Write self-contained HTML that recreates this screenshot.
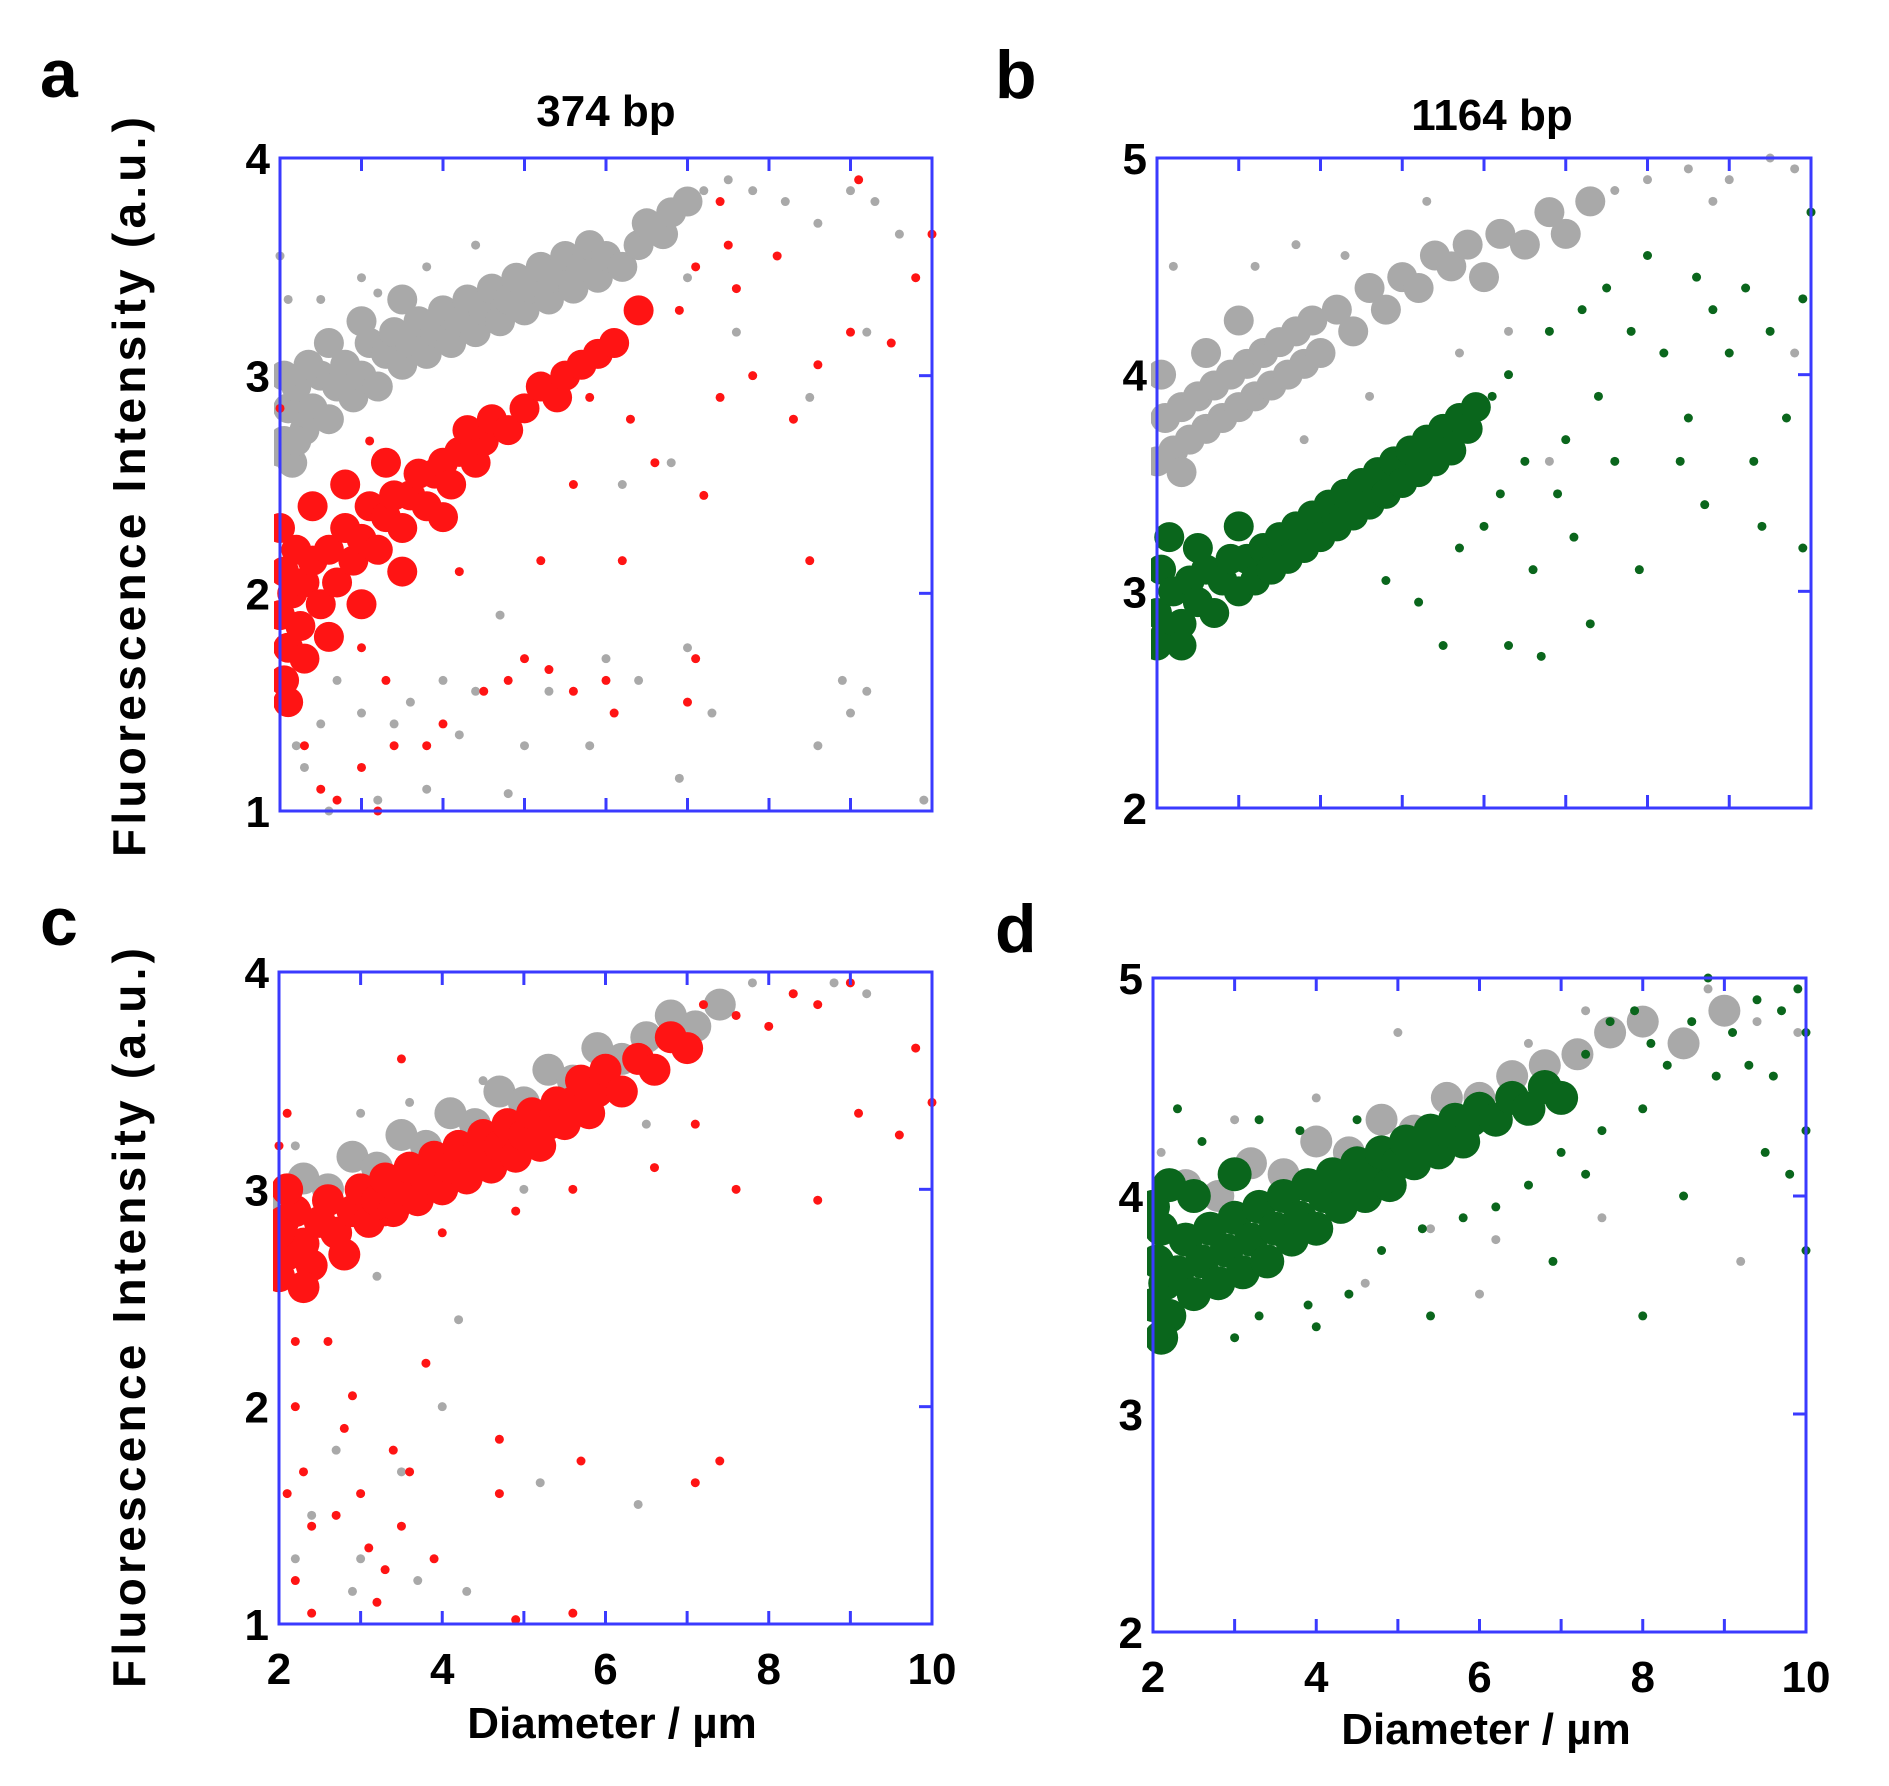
<!DOCTYPE html>
<html><head><meta charset="utf-8"><style>
html,body{margin:0;padding:0;background:#fff}
svg{display:block;font-family:"Liberation Sans",Arial,sans-serif}
</style></head><body>
<svg id="fig" width="1889" height="1786" viewBox="0 0 1889 1786">
<text x="40" y="97" font-size="68" font-weight="bold">a</text>
<text x="995" y="98" font-size="68" font-weight="bold">b</text>
<text x="40" y="945" font-size="68" font-weight="bold">c</text>
<text x="995" y="952" font-size="68" font-weight="bold">d</text>
<text x="606" y="126" font-size="44" font-weight="bold" text-anchor="middle">374 bp</text>
<text x="1492" y="130" font-size="44" font-weight="bold" text-anchor="middle">1164 bp</text>
<text transform="translate(145,487) rotate(-90)" font-size="46" font-weight="bold" text-anchor="middle" textLength="740">Fluorescence  Intensity (a.u.)</text>
<text transform="translate(145,1318) rotate(-90)" font-size="46" font-weight="bold" text-anchor="middle" textLength="740">Fluorescence  Intensity (a.u.)</text>
<text x="612" y="1738" font-size="44" font-weight="bold" text-anchor="middle">Diameter / µm</text>
<text x="1486" y="1744" font-size="44" font-weight="bold" text-anchor="middle">Diameter / µm</text>
</svg>
<script>
const xTicks=[2,3,4,5,6,7,8,9,10];
const xTickLabels=[2,4,6,8,10];
const yTicksA=[1,2,3,4];
const yTicksB=[2,3,4,5];

const grayACore=[[2.05,2.7],[2.1,2.85],[2.2,2.95],[2.3,2.75],[2.4,2.85],[2.5,3.0],[2.6,2.8],[2.7,2.95],[2.8,3.05],[2.9,2.9],[3.0,3.0],[3.1,3.15],[3.2,2.95],[3.3,3.1],[3.4,3.2],[3.5,3.05],[3.6,3.15],[3.7,3.25],[3.8,3.1],[3.9,3.2],[4.0,3.3],[4.1,3.15],[4.2,3.25],[4.3,3.35],[4.4,3.2],[4.5,3.3],[4.6,3.4],[4.7,3.25],[4.8,3.35],[4.9,3.45],[5.0,3.3],[5.1,3.4],[5.2,3.5],[5.3,3.35],[5.4,3.45],[5.5,3.55],[5.6,3.4],[5.7,3.5],[5.8,3.6],[5.9,3.45],[6.0,3.55],[6.2,3.5],[6.4,3.6],[6.5,3.7],[6.7,3.65],[6.8,3.75],[7.0,3.8],[2.0,2.65],[2.15,2.6],[2.35,3.05],[2.6,3.15],[3.0,3.25],[3.5,3.35],[2.05,3.0],[2.2,2.7]];
const grayAScatter=[[2.0,3.55],[2.1,3.35],[2.5,3.35],[3.0,3.45],[3.2,3.38],[3.8,3.5],[4.4,3.6],[7.2,3.85],[7.5,3.9],[7.8,3.85],[8.2,3.8],[8.6,3.7],[9.0,3.85],[9.3,3.8],[9.6,3.65],[7.0,3.45],[7.6,3.2],[8.5,2.9],[9.2,3.2],[6.8,2.6],[6.2,2.5],[4.7,1.9],[4.4,1.55],[4.0,1.6],[3.6,1.5],[3.4,1.4],[3.0,1.45],[2.7,1.6],[2.5,1.4],[2.2,1.3],[2.3,1.2],[4.2,1.35],[5.0,1.3],[5.3,1.55],[6.0,1.7],[6.4,1.6],[7.0,1.75],[7.3,1.45],[8.9,1.6],[9.2,1.55],[9.0,1.45],[5.8,1.3],[3.8,1.1],[3.2,1.05],[4.8,1.08],[6.9,1.15],[9.9,1.05],[2.6,1.0],[8.6,1.3]];
const redACore=[[2.0,1.9],[2.05,2.1],[2.1,1.75],[2.15,2.0],[2.2,2.2],[2.25,1.85],[2.3,2.05],[2.4,2.15],[2.5,1.95],[2.6,2.2],[2.7,2.05],[2.8,2.3],[2.9,2.15],[3.0,2.25],[3.1,2.4],[3.2,2.2],[3.3,2.35],[3.4,2.45],[3.5,2.3],[3.6,2.45],[3.7,2.55],[3.8,2.4],[3.9,2.55],[4.0,2.6],[4.1,2.5],[4.2,2.65],[4.3,2.75],[4.4,2.6],[4.5,2.7],[4.6,2.8],[4.8,2.75],[5.0,2.85],[5.2,2.95],[5.4,2.9],[5.5,3.0],[5.7,3.05],[5.9,3.1],[6.1,3.15],[6.4,3.3],[2.05,1.6],[2.1,1.5],[2.3,1.7],[2.0,2.3],[2.4,2.4],[2.8,2.5],[3.3,2.6],[2.6,1.8],[3.0,1.95],[3.5,2.1],[4.0,2.35]];
const redAScatter=[[2.0,2.85],[2.3,1.3],[2.5,1.1],[2.7,1.05],[3.2,1.0],[3.0,1.2],[3.4,1.3],[3.8,1.3],[4.0,1.4],[4.5,1.55],[4.8,1.6],[5.0,1.7],[5.3,1.65],[5.6,1.55],[6.0,1.6],[7.1,1.7],[7.0,1.5],[6.1,1.45],[3.0,1.75],[3.3,1.6],[3.1,2.7],[4.4,2.7],[5.6,2.5],[6.3,2.8],[5.8,2.9],[6.6,2.6],[7.2,2.45],[7.4,2.9],[7.8,3.0],[8.3,2.8],[8.6,3.05],[9.0,3.2],[9.5,3.15],[9.8,3.45],[10.0,3.65],[9.1,3.9],[8.1,3.55],[7.5,3.6],[7.1,3.5],[6.9,3.3],[7.6,3.4],[8.5,2.15],[6.2,2.15],[5.2,2.15],[7.4,3.8],[4.2,2.1]];

const grayBCore=[[2.0,3.6],[2.1,3.8],[2.2,3.65],[2.3,3.85],[2.4,3.7],[2.5,3.9],[2.6,3.75],[2.7,3.95],[2.8,3.8],[2.9,4.0],[3.0,3.85],[3.1,4.05],[3.2,3.9],[3.3,4.1],[3.4,3.95],[3.5,4.15],[3.6,4.0],[3.7,4.2],[3.8,4.05],[3.9,4.25],[4.0,4.1],[4.2,4.3],[4.4,4.2],[4.6,4.4],[4.8,4.3],[5.0,4.45],[5.2,4.4],[5.4,4.55],[5.6,4.5],[5.8,4.6],[6.0,4.45],[6.2,4.65],[6.5,4.6],[6.8,4.75],[7.0,4.65],[7.3,4.8],[2.05,4.0],[2.3,3.55],[2.6,4.1],[3.0,4.25]];
const grayBScatter=[[2.2,4.5],[3.2,4.5],[3.7,4.6],[4.3,4.55],[5.3,4.8],[7.6,4.85],[8.0,4.9],[8.5,4.95],[9.0,4.9],[9.5,5.0],[9.8,4.95],[10,4.75],[8.8,4.8],[3.8,3.7],[4.6,3.9],[5.7,4.1],[6.3,4.2],[6.8,3.6],[9.8,4.1]];
const greenBCore=[[2.0,2.9],[2.05,3.1],[2.1,2.8],[2.2,3.0],[2.3,2.85],[2.4,3.05],[2.5,2.95],[2.6,3.1],[2.7,2.9],[2.8,3.05],[2.9,3.15],[3.0,3.0],[3.1,3.15],[3.2,3.05],[3.3,3.2],[3.4,3.1],[3.5,3.25],[3.6,3.15],[3.7,3.3],[3.8,3.2],[3.9,3.35],[4.0,3.25],[4.1,3.4],[4.2,3.3],[4.3,3.45],[4.4,3.35],[4.5,3.5],[4.6,3.4],[4.7,3.55],[4.8,3.45],[4.9,3.6],[5.0,3.5],[5.1,3.65],[5.2,3.55],[5.3,3.7],[5.4,3.6],[5.5,3.75],[5.6,3.65],[5.7,3.8],[5.8,3.75],[5.9,3.85],[2.0,2.75],[2.15,3.25],[2.5,3.2],[3.0,3.3],[2.3,2.75]];
const greenBScatter=[[6.1,3.9],[6.3,4.0],[6.5,3.6],[6.2,3.45],[6.8,4.2],[7.0,3.7],[7.2,4.3],[7.5,4.4],[7.8,4.2],[8.0,4.55],[7.4,3.9],[7.6,3.6],[8.2,4.1],[8.5,3.8],[8.8,4.3],[9.0,4.1],[9.3,3.6],[9.5,4.2],[9.7,3.8],[9.9,4.35],[10.0,4.75],[9.2,4.4],[8.6,4.45],[6.0,3.3],[5.7,3.2],[6.6,3.1],[7.1,3.25],[7.9,3.1],[8.7,3.4],[9.4,3.3],[9.9,3.2],[5.5,2.75],[6.3,2.75],[6.7,2.7],[7.3,2.85],[5.2,2.95],[4.8,3.05],[8.4,3.6],[6.9,3.45]];

const grayCCore=[[2.0,2.95],[2.3,3.05],[2.6,3.0],[2.9,3.15],[3.2,3.1],[3.5,3.25],[3.8,3.2],[4.1,3.35],[4.4,3.3],[4.7,3.45],[5.0,3.4],[5.3,3.55],[5.6,3.5],[5.9,3.65],[6.2,3.6],[6.5,3.7],[6.8,3.8],[7.1,3.75],[7.4,3.85]];
const grayCScatter=[[2.2,3.2],[3.0,3.35],[3.6,3.4],[4.5,3.5],[7.8,3.95],[8.3,3.9],[8.8,3.95],[9.2,3.9],[6.5,3.3],[5.0,3.0],[3.2,2.6],[4.2,2.4],[4.0,2.0],[3.5,1.7],[2.7,1.8],[2.4,1.5],[3.0,1.3],[4.3,1.15],[5.2,1.65],[6.4,1.55],[3.7,1.2],[2.2,1.3],[2.9,1.15]];
const redCCore=[[2.0,2.6],[2.05,2.85],[2.1,2.7],[2.2,2.9],[2.3,2.75],[2.4,2.65],[2.5,2.85],[2.6,2.95],[2.7,2.8],[2.8,2.7],[2.9,2.9],[3.0,3.0],[3.1,2.85],[3.2,2.95],[3.3,3.05],[3.4,2.9],[3.5,3.0],[3.6,3.1],[3.7,2.95],[3.8,3.05],[3.9,3.15],[4.0,3.0],[4.1,3.1],[4.2,3.2],[4.3,3.05],[4.4,3.15],[4.5,3.25],[4.6,3.1],[4.7,3.2],[4.8,3.3],[4.9,3.15],[5.0,3.25],[5.1,3.35],[5.2,3.2],[5.3,3.3],[5.4,3.4],[5.5,3.3],[5.6,3.4],[5.7,3.5],[5.8,3.35],[5.9,3.45],[6.0,3.55],[6.2,3.45],[6.4,3.6],[6.6,3.55],[6.8,3.7],[7.0,3.65],[2.1,3.0],[2.3,2.55],[2.0,2.8]];
const redCScatter=[[2.0,3.2],[2.1,3.35],[3.5,3.6],[7.2,3.85],[7.6,3.8],[8.0,3.75],[8.3,3.9],[8.6,3.85],[9.0,3.95],[9.8,3.65],[10,3.4],[9.6,3.25],[9.1,3.35],[8.6,2.95],[7.6,3.0],[7.1,3.3],[6.6,3.1],[5.6,3.0],[4.9,2.9],[4.0,2.8],[3.3,2.85],[2.2,2.0],[2.3,1.7],[2.1,1.6],[2.4,1.45],[2.7,1.5],[2.8,1.9],[2.9,2.05],[2.6,2.3],[3.0,1.6],[3.1,1.35],[3.3,1.25],[3.5,1.45],[3.6,1.7],[3.4,1.8],[3.9,1.3],[3.2,1.1],[2.2,1.2],[2.4,1.05],[4.7,1.85],[4.7,1.6],[5.7,1.75],[7.1,1.65],[7.4,1.75],[5.6,1.05],[4.9,1.02],[3.8,2.2],[2.2,2.3]];

const grayDCore=[[2.0,3.95],[2.4,4.05],[2.8,4.0],[3.2,4.15],[3.6,4.1],[4.0,4.25],[4.4,4.2],[4.8,4.35],[5.2,4.3],[5.6,4.45],[6.0,4.45],[6.4,4.55],[6.8,4.6],[7.2,4.65],[7.6,4.75],[8.0,4.8],[8.5,4.7],[9.0,4.85]];
const grayDScatter=[[2.1,4.2],[3.0,4.35],[4.0,4.45],[5.0,4.75],[6.6,4.7],[7.3,4.85],[9.4,4.8],[9.9,4.75],[8.8,4.95],[5.4,3.85],[6.2,3.8],[4.6,3.6],[7.5,3.9],[9.2,3.7],[6.0,3.55]];
const greenDCore=[[2.0,3.5],[2.05,3.7],[2.1,3.85],[2.15,3.6],[2.2,3.45],[2.3,3.65],[2.4,3.8],[2.5,3.55],[2.6,3.7],[2.7,3.85],[2.8,3.6],[2.9,3.75],[3.0,3.9],[3.1,3.65],[3.2,3.8],[3.3,3.95],[3.4,3.7],[3.5,3.85],[3.6,4.0],[3.7,3.8],[3.8,3.9],[3.9,4.05],[4.0,3.85],[4.1,4.0],[4.2,4.1],[4.3,3.95],[4.4,4.05],[4.5,4.15],[4.6,4.0],[4.7,4.1],[4.8,4.2],[4.9,4.05],[5.0,4.15],[5.1,4.25],[5.2,4.15],[5.3,4.25],[5.4,4.3],[5.5,4.2],[5.6,4.3],[5.7,4.35],[5.8,4.25],[5.9,4.35],[6.0,4.4],[6.2,4.35],[6.4,4.45],[6.6,4.4],[6.8,4.5],[7.0,4.45],[2.0,3.95],[2.2,4.05],[2.5,4.0],[3.0,4.1],[2.1,3.35]];
const greenDScatter=[[2.3,4.4],[2.6,4.25],[3.3,4.35],[3.8,4.3],[4.5,4.35],[7.3,4.65],[7.6,4.8],[7.9,4.85],[8.1,4.7],[8.3,4.6],[8.6,4.8],[8.8,5.0],[9.1,4.75],[9.4,4.9],[9.7,4.85],[9.9,4.95],[10,4.75],[9.6,4.55],[9.3,4.6],[8.9,4.55],[8.0,4.4],[7.5,4.3],[7.0,4.2],[6.6,4.05],[6.2,3.95],[5.8,3.9],[5.3,3.85],[4.8,3.75],[4.4,3.55],[3.9,3.5],[3.3,3.45],[3.0,3.35],[4.0,3.4],[5.4,3.45],[8.0,3.45],[6.9,3.7],[8.5,4.0],[9.5,4.2],[10,4.3],[10,3.75],[9.8,4.1],[7.3,4.1]];

const NS='http://www.w3.org/2000/svg';
const svg=document.getElementById('fig');
function mk(tag,attrs,parent){const e=document.createElementNS(NS,tag);for(const k in attrs)e.setAttribute(k,attrs[k]);(parent||svg).appendChild(e);return e;}

function panel(id,box,ymin,ymax,yTicks,showX,series){
  const g=mk('g',{});
  
  
  const sx=v=>box.l+(v-2)/(10-2)*(box.r-box.l);
  const sy=v=>box.b-(v-ymin)/(ymax-ymin)*(box.b-box.t);
  const clipId='clip'+id;
  const cp=mk('clipPath',{id:clipId},g);
  mk('rect',{x:box.l-6,y:box.t-6,width:box.r-box.l+12,height:box.b-box.t+12},cp);
  const pg=mk('g',{'clip-path':'url(#'+clipId+')'},g);
  series.forEach(s=>{
    const sg=mk('g',{fill:s.color},pg);
    
    
    s.core.forEach(p=>{
      const c=mk('circle',{cx:sx(p[0]),cy:sy(p[1]),r:s.coreR},sg);
      
      
    });
    s.scatter.forEach(p=>{
      const c=mk('circle',{cx:sx(p[0]),cy:sy(p[1]),r:4.5},sg);
      
      
    });
  });
  const fr=mk('rect',{x:box.l,y:box.t,width:box.r-box.l,height:box.b-box.t,fill:'none',stroke:'#3a3aff','stroke-width':3},g);
  
  
  xTicks.forEach(v=>{
    mk('line',{x1:sx(v),x2:sx(v),y1:box.b,y2:box.b-13,stroke:'#3a3aff','stroke-width':3},g);
    mk('line',{x1:sx(v),x2:sx(v),y1:box.t,y2:box.t+13,stroke:'#3a3aff','stroke-width':3},g);
  });
  yTicks.forEach(v=>{
    mk('line',{x1:box.r,x2:box.r-13,y1:sy(v),y2:sy(v),stroke:'#3a3aff','stroke-width':3},g);
    const t=mk('text',{x:box.l-10,y:sy(v)+16,'font-size':44,'font-weight':'bold','text-anchor':'end'},g);
    t.textContent=v;
    
    
  });
  if(showX){
    xTickLabels.forEach(v=>{
      const t=mk('text',{x:sx(v),y:box.b+60,'font-size':44,'font-weight':'bold','text-anchor':'middle'},g);
      t.textContent=v;
      
      
    });
  }
}
const GR='#a9a9a9',RD='#ff1414',GN='#0a661c';
panel('a',{l:280,r:932,t:158,b:811},1,4,yTicksA,false,[
  {name:'control',color:GR,core:grayACore,scatter:grayAScatter,coreR:15},
  {name:'sample',color:RD,core:redACore,scatter:redAScatter,coreR:15}]);
panel('b',{l:1157,r:1811,t:158,b:808},2,5,yTicksB,false,[
  {name:'control',color:GR,core:grayBCore,scatter:grayBScatter,coreR:15},
  {name:'sample',color:GN,core:greenBCore,scatter:greenBScatter,coreR:15}]);
panel('c',{l:279,r:932,t:972,b:1624},1,4,yTicksA,true,[
  {name:'control',color:GR,core:grayCCore,scatter:grayCScatter,coreR:16},
  {name:'sample',color:RD,core:redCCore,scatter:redCScatter,coreR:16}]);
panel('d',{l:1153,r:1806,t:978,b:1632},2,5,yTicksB,true,[
  {name:'control',color:GR,core:grayDCore,scatter:grayDScatter,coreR:16},
  {name:'sample',color:GN,core:greenDCore,scatter:greenDScatter,coreR:17}]);
</script>
</body></html>
